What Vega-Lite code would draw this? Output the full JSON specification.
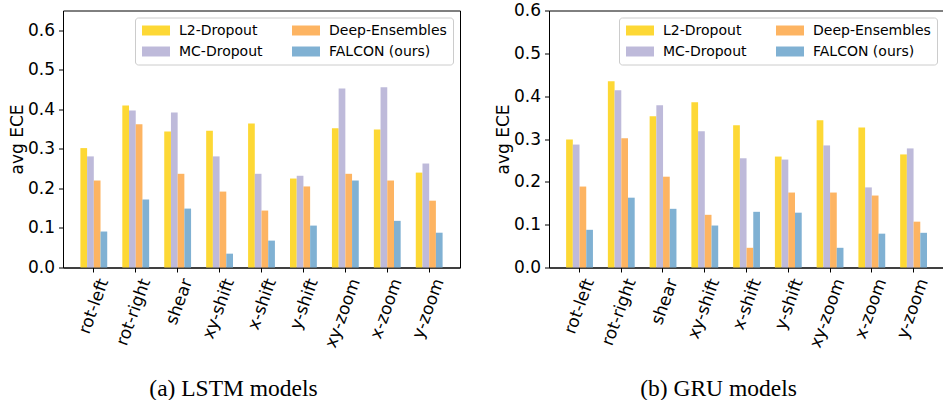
{
  "$schema": "https://vega.github.io/schema/vega-lite/v6.json",
  "autosize": {"type": "pad"},
  "padding": {"left": 7, "top": 0.5, "right": 0, "bottom": 0},
  "spacing": 32,
  "config": {
    "font": "DejaVu Sans",
    "view": {"stroke": "black", "strokeWidth": 1},
    "axis": {
      "grid": false, "domainColor": "black", "tickColor": "black", "labelColor": "black", "titleColor": "black",
      "labelFont": "DejaVu Sans", "titleFont": "DejaVu Sans", "labelFontSize": 17, "titleFontSize": 17,
      "titleFontWeight": "normal", "tickSize": 4.5, "domainWidth": 1, "tickWidth": 1, "labelPadding": 4
    },
    "legend": {
      "orient": "top-right", "offset": 7, "columns": 2, "columnPadding": 28, "rowPadding": 7,
      "symbolType": "M-2.333,-0.833H2.333V0.833H-2.333Z", "symbolSize": 144, "symbolOffset": 8, "symbolStrokeWidth": 0, "symbolOpacity": 1,
      "labelFont": "DejaVu Sans", "labelFontSize": 14, "labelColor": "black", "labelOffset": 16,
      "fillColor": "rgba(255,255,255,0.8)", "strokeColor": "#cccccc", "cornerRadius": 3, "padding": 6, "title": null
    },
    "title": {"font": "Liberation Serif", "fontSize": 23.5, "fontWeight": "normal", "color": "black", "orient": "bottom", "anchor": "middle", "dx": -28, "offset": 27}
  },
  "resolve": {"legend": {"color": "independent"}, "scale": {"y": "independent"}},
  "datasets": {
    "lstm": [
      {"cond": "rot-left", "method": "L2-Dropout", "value": 0.302},
      {"cond": "rot-left", "method": "MC-Dropout", "value": 0.281},
      {"cond": "rot-left", "method": "Deep-Ensembles", "value": 0.220},
      {"cond": "rot-left", "method": "FALCON (ours)", "value": 0.091},
      {"cond": "rot-right", "method": "L2-Dropout", "value": 0.410},
      {"cond": "rot-right", "method": "MC-Dropout", "value": 0.397},
      {"cond": "rot-right", "method": "Deep-Ensembles", "value": 0.362},
      {"cond": "rot-right", "method": "FALCON (ours)", "value": 0.172},
      {"cond": "shear", "method": "L2-Dropout", "value": 0.344},
      {"cond": "shear", "method": "MC-Dropout", "value": 0.392},
      {"cond": "shear", "method": "Deep-Ensembles", "value": 0.237},
      {"cond": "shear", "method": "FALCON (ours)", "value": 0.149},
      {"cond": "xy-shift", "method": "L2-Dropout", "value": 0.346},
      {"cond": "xy-shift", "method": "MC-Dropout", "value": 0.281},
      {"cond": "xy-shift", "method": "Deep-Ensembles", "value": 0.192},
      {"cond": "xy-shift", "method": "FALCON (ours)", "value": 0.035},
      {"cond": "x-shift", "method": "L2-Dropout", "value": 0.364},
      {"cond": "x-shift", "method": "MC-Dropout", "value": 0.237},
      {"cond": "x-shift", "method": "Deep-Ensembles", "value": 0.144},
      {"cond": "x-shift", "method": "FALCON (ours)", "value": 0.068},
      {"cond": "y-shift", "method": "L2-Dropout", "value": 0.225},
      {"cond": "y-shift", "method": "MC-Dropout", "value": 0.232},
      {"cond": "y-shift", "method": "Deep-Ensembles", "value": 0.205},
      {"cond": "y-shift", "method": "FALCON (ours)", "value": 0.106},
      {"cond": "xy-zoom", "method": "L2-Dropout", "value": 0.352},
      {"cond": "xy-zoom", "method": "MC-Dropout", "value": 0.453},
      {"cond": "xy-zoom", "method": "Deep-Ensembles", "value": 0.237},
      {"cond": "xy-zoom", "method": "FALCON (ours)", "value": 0.220},
      {"cond": "x-zoom", "method": "L2-Dropout", "value": 0.349},
      {"cond": "x-zoom", "method": "MC-Dropout", "value": 0.456},
      {"cond": "x-zoom", "method": "Deep-Ensembles", "value": 0.220},
      {"cond": "x-zoom", "method": "FALCON (ours)", "value": 0.118},
      {"cond": "y-zoom", "method": "L2-Dropout", "value": 0.240},
      {"cond": "y-zoom", "method": "MC-Dropout", "value": 0.263},
      {"cond": "y-zoom", "method": "Deep-Ensembles", "value": 0.169},
      {"cond": "y-zoom", "method": "FALCON (ours)", "value": 0.088}
    ],
    "gru": [
      {"cond": "rot-left", "method": "L2-Dropout", "value": 0.299},
      {"cond": "rot-left", "method": "MC-Dropout", "value": 0.287},
      {"cond": "rot-left", "method": "Deep-Ensembles", "value": 0.189},
      {"cond": "rot-left", "method": "FALCON (ours)", "value": 0.088},
      {"cond": "rot-right", "method": "L2-Dropout", "value": 0.435},
      {"cond": "rot-right", "method": "MC-Dropout", "value": 0.414},
      {"cond": "rot-right", "method": "Deep-Ensembles", "value": 0.302},
      {"cond": "rot-right", "method": "FALCON (ours)", "value": 0.163},
      {"cond": "shear", "method": "L2-Dropout", "value": 0.353},
      {"cond": "shear", "method": "MC-Dropout", "value": 0.379},
      {"cond": "shear", "method": "Deep-Ensembles", "value": 0.212},
      {"cond": "shear", "method": "FALCON (ours)", "value": 0.137},
      {"cond": "xy-shift", "method": "L2-Dropout", "value": 0.386},
      {"cond": "xy-shift", "method": "MC-Dropout", "value": 0.318},
      {"cond": "xy-shift", "method": "Deep-Ensembles", "value": 0.123},
      {"cond": "xy-shift", "method": "FALCON (ours)", "value": 0.098},
      {"cond": "x-shift", "method": "L2-Dropout", "value": 0.332},
      {"cond": "x-shift", "method": "MC-Dropout", "value": 0.255},
      {"cond": "x-shift", "method": "Deep-Ensembles", "value": 0.046},
      {"cond": "x-shift", "method": "FALCON (ours)", "value": 0.130},
      {"cond": "y-shift", "method": "L2-Dropout", "value": 0.259},
      {"cond": "y-shift", "method": "MC-Dropout", "value": 0.252},
      {"cond": "y-shift", "method": "Deep-Ensembles", "value": 0.175},
      {"cond": "y-shift", "method": "FALCON (ours)", "value": 0.128},
      {"cond": "xy-zoom", "method": "L2-Dropout", "value": 0.344},
      {"cond": "xy-zoom", "method": "MC-Dropout", "value": 0.285},
      {"cond": "xy-zoom", "method": "Deep-Ensembles", "value": 0.175},
      {"cond": "xy-zoom", "method": "FALCON (ours)", "value": 0.046},
      {"cond": "x-zoom", "method": "L2-Dropout", "value": 0.327},
      {"cond": "x-zoom", "method": "MC-Dropout", "value": 0.187},
      {"cond": "x-zoom", "method": "Deep-Ensembles", "value": 0.168},
      {"cond": "x-zoom", "method": "FALCON (ours)", "value": 0.079},
      {"cond": "y-zoom", "method": "L2-Dropout", "value": 0.264},
      {"cond": "y-zoom", "method": "MC-Dropout", "value": 0.278},
      {"cond": "y-zoom", "method": "Deep-Ensembles", "value": 0.107},
      {"cond": "y-zoom", "method": "FALCON (ours)", "value": 0.081}
    ]
  },
  "hconcat": [
    {
      "width": 397, "height": 257,
      "title": {"text": "(a) LSTM models"},
      "data": {"name": "lstm"},
      "mark": {"type": "bar"},
      "encoding": {
        "x": {"field": "cond", "type": "nominal",
          "sort": ["rot-left", "rot-right", "shear", "xy-shift", "x-shift", "y-shift", "xy-zoom", "x-zoom", "y-zoom"],
          "scale": {"paddingInner": 0.36, "paddingOuter": 0.415},
          "axis": {"title": null, "labelAngle": -70, "labelAlign": "right", "labelBaseline": "middle", "labelOffset": 10, "labelPadding": 7, "labelOverlap": false}},
        "xOffset": {"field": "method", "type": "nominal", "sort": ["L2-Dropout", "MC-Dropout", "Deep-Ensembles", "FALCON (ours)"], "scale": {"paddingInner": 0, "paddingOuter": 0}},
        "y": {"field": "value", "type": "quantitative", "scale": {"domain": [0, 0.65], "nice": false},
          "axis": {"title": "avg ECE", "values": [0, 0.1, 0.2, 0.3, 0.4, 0.5, 0.6], "format": ".1f", "titlePadding": 1}},
        "color": {"field": "method", "type": "nominal",
          "scale": {"domain": ["L2-Dropout", "MC-Dropout", "Deep-Ensembles", "FALCON (ours)"], "range": ["#FDD835", "#BEBADA", "#FDB462", "#80B1D3"]}}
      }
    },
    {
      "width": 395, "height": 257,
      "title": {"text": "(b) GRU models"},
      "data": {"name": "gru"},
      "mark": {"type": "bar"},
      "encoding": {
        "x": {"field": "cond", "type": "nominal",
          "sort": ["rot-left", "rot-right", "shear", "xy-shift", "x-shift", "y-shift", "xy-zoom", "x-zoom", "y-zoom"],
          "scale": {"paddingInner": 0.36, "paddingOuter": 0.41},
          "axis": {"title": null, "labelAngle": -70, "labelAlign": "right", "labelBaseline": "middle", "labelOffset": 10, "labelPadding": 7, "labelOverlap": false}},
        "xOffset": {"field": "method", "type": "nominal", "sort": ["L2-Dropout", "MC-Dropout", "Deep-Ensembles", "FALCON (ours)"], "scale": {"paddingInner": 0, "paddingOuter": 0}},
        "y": {"field": "value", "type": "quantitative", "scale": {"domain": [0, 0.6], "nice": false},
          "axis": {"title": "avg ECE", "values": [0, 0.1, 0.2, 0.3, 0.4, 0.5, 0.6], "format": ".1f", "titlePadding": 1}},
        "color": {"field": "method", "type": "nominal",
          "scale": {"domain": ["L2-Dropout", "MC-Dropout", "Deep-Ensembles", "FALCON (ours)"], "range": ["#FDD835", "#BEBADA", "#FDB462", "#80B1D3"]}}
      }
    }
  ]
}
